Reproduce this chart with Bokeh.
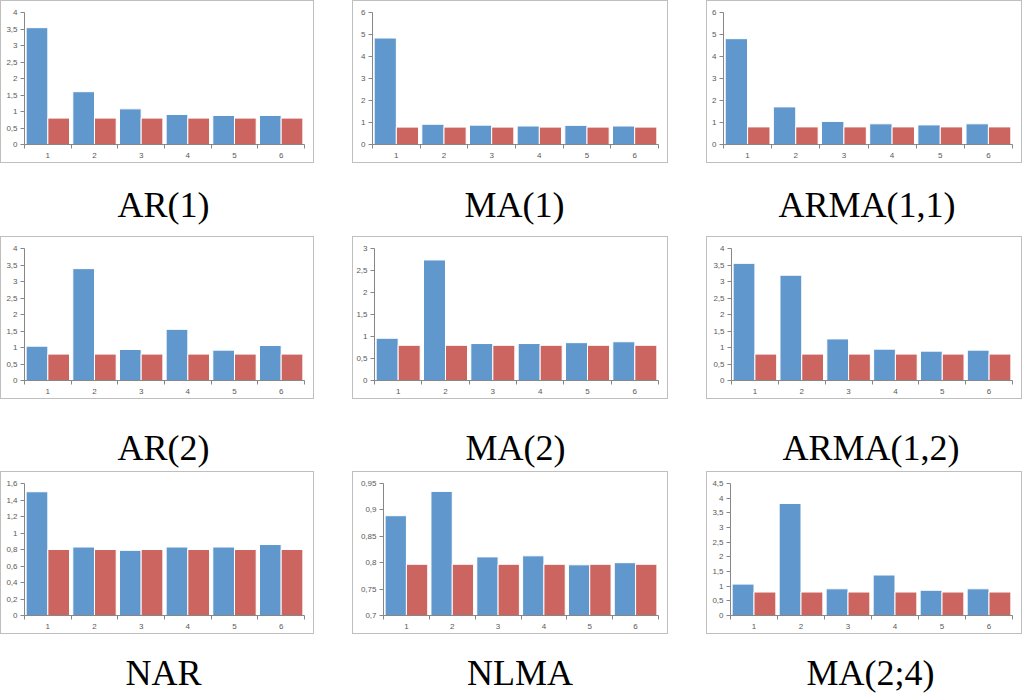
from bokeh.plotting import figure
from bokeh.layouts import row, column
from bokeh.models import FixedTicker, CustomJSTickFormatter, Range1d
from bokeh.core.properties import value
from bokeh.embed import file_html
from bokeh.resources import INLINE

categories = [1, 2, 3, 4, 5, 6]
titles = ["AR(1)", "MA(1)", "ARMA(1,1)",
          "AR(2)", "MA(2)", "ARMA(1,2)",
          "NAR", "NLMA", "MA(2;4)"]

# blue series (model) and red series (benchmark) per panel
ar1_blue = [3.54, 1.60, 1.08, 0.91, 0.88, 0.88]
ar1_red = [0.80, 0.80, 0.80, 0.80, 0.80, 0.80]
ma1_blue = [4.84, 0.92, 0.88, 0.84, 0.87, 0.84]
ma1_red = [0.79, 0.79, 0.79, 0.79, 0.79, 0.79]
arma11_blue = [4.81, 1.71, 1.05, 0.94, 0.89, 0.94]
arma11_red = [0.80, 0.80, 0.80, 0.80, 0.80, 0.80]
ar2_blue = [1.04, 3.39, 0.94, 1.55, 0.92, 1.06]
ar2_red = [0.80, 0.80, 0.80, 0.80, 0.80, 0.80]
ma2_blue = [0.96, 2.74, 0.84, 0.84, 0.86, 0.88]
ma2_red = [0.80, 0.80, 0.80, 0.80, 0.80, 0.80]
arma12_blue = [3.55, 3.19, 1.26, 0.95, 0.89, 0.92]
arma12_red = [0.80, 0.80, 0.80, 0.80, 0.80, 0.80]
nar_blue = [1.50, 0.83, 0.79, 0.83, 0.83, 0.86]
nar_red = [0.80, 0.80, 0.80, 0.80, 0.80, 0.80]
nlma_blue = [0.889, 0.935, 0.811, 0.813, 0.796, 0.800]
nlma_red = [0.797, 0.797, 0.797, 0.797, 0.797, 0.797]
ma24_blue = [1.07, 3.82, 0.91, 1.38, 0.86, 0.91]
ma24_red = [0.80, 0.80, 0.80, 0.80, 0.80, 0.80]

# y-axis tick values per panel
ticks_0_4 = [0, 0.5, 1, 1.5, 2, 2.5, 3, 3.5, 4]
ticks_0_6 = [0, 1, 2, 3, 4, 5, 6]
ticks_0_3 = [0, 0.5, 1, 1.5, 2, 2.5, 3]
ticks_0_16 = [0, 0.2, 0.4, 0.6, 0.8, 1, 1.2, 1.4, 1.6]
ticks_07_095 = [0.7, 0.75, 0.8, 0.85, 0.9, 0.95]
ticks_0_45 = [0, 0.5, 1, 1.5, 2, 2.5, 3, 3.5, 4, 4.5]
x_boundaries = [0.5, 1.5, 2.5, 3.5, 4.5, 5.5, 6.5]

blues = [ar1_blue, ma1_blue, arma11_blue, ar2_blue, ma2_blue, arma12_blue,
         nar_blue, nlma_blue, ma24_blue]
reds = [ar1_red, ma1_red, arma11_red, ar2_red, ma2_red, arma12_red,
        nar_red, nlma_red, ma24_red]
yticks = [ticks_0_4, ticks_0_6, ticks_0_6, ticks_0_4, ticks_0_3, ticks_0_4,
          ticks_0_16, ticks_07_095, ticks_0_45]

BLUE = "#6097CD"
RED = "#CC6560"
AXIS = "#878787"
LABEL = "#595959"
BOX = "#BFBFBF"

# layout settings
col_widths = [314, 316, 316]
box_h = 163
band_h = [73, 72, 59]
mid_frac = [0.425, 0.326, 0.34]
left_border = [23, 19, 16, 23, 21, 24, 23, 30, 23]

fmt_code = "return String(Math.round(tick*100)/100).replace('.', ',');"


def make_chart(i, w):
    yt = yticks[i]
    y0, y1 = yt[0], yt[-1]
    p = figure(width=w, height=box_h,
               x_range=Range1d(0.5, 6.5), y_range=Range1d(y0, y1),
               toolbar_location=None, output_backend="svg",
               min_border_left=left_border[i], min_border_right=11,
               min_border_top=11, min_border_bottom=20)
    p.styles = {"border": "1px solid " + BOX, "box-sizing": "border-box"}
    p.vbar(x=[c - 0.2325 for c in categories], top=blues[i], bottom=y0,
           width=0.465, fill_color=BLUE, line_color="white", line_width=1)
    p.vbar(x=[c + 0.2325 for c in categories], top=reds[i], bottom=y0,
           width=0.465, fill_color=RED, line_color="white", line_width=1)
    p.xgrid.visible = False
    p.ygrid.visible = False
    p.outline_line_color = None
    p.background_fill_color = "white"

    xa = p.xaxis[0]
    xa.ticker = FixedTicker(ticks=categories, minor_ticks=x_boundaries)
    xa.major_tick_out = 0
    xa.major_tick_in = 0
    xa.minor_tick_out = 4
    xa.minor_tick_in = 0
    xa.minor_tick_line_color = AXIS
    xa.axis_line_color = AXIS
    xa.major_label_text_font = "Liberation Sans"
    xa.major_label_text_font_size = "8px"
    xa.major_label_text_color = LABEL
    xa.major_label_standoff = 4

    ya = p.yaxis[0]
    ya.ticker = FixedTicker(ticks=yt, minor_ticks=[])
    ya.formatter = CustomJSTickFormatter(code=fmt_code)
    ya.major_tick_out = 4
    ya.major_tick_in = 0
    ya.major_tick_line_color = AXIS
    ya.minor_tick_line_color = None
    ya.axis_line_color = AXIS
    ya.major_label_text_font = "Liberation Sans"
    ya.major_label_text_font_size = "8px"
    ya.major_label_text_color = LABEL
    ya.major_label_standoff = 3
    return p


def make_title(i, w, r):
    t = figure(width=w, height=band_h[r],
               x_range=Range1d(0, 1), y_range=Range1d(0, 1),
               toolbar_location=None, output_backend="svg",
               x_axis_type=None, y_axis_type=None, min_border=0)
    t.grid.visible = False
    t.outline_line_color = None
    t.text(x=[0.5], y=[mid_frac[r]], text=[titles[i]],
           text_align="center", text_baseline="middle",
           text_font=value("Liberation Serif"), text_font_size="36px",
           text_color="black")
    return t


rows = []
for r in range(3):
    cells = []
    for c in range(3):
        i = r * 3 + c
        w = col_widths[c]
        cells.append(column(make_chart(i, w), make_title(i, w, r), spacing=0))
    rows.append(row(cells, spacing=38))

layout = column(rows, spacing=0)

open("out.html", "w").write(file_html(layout, INLINE))
